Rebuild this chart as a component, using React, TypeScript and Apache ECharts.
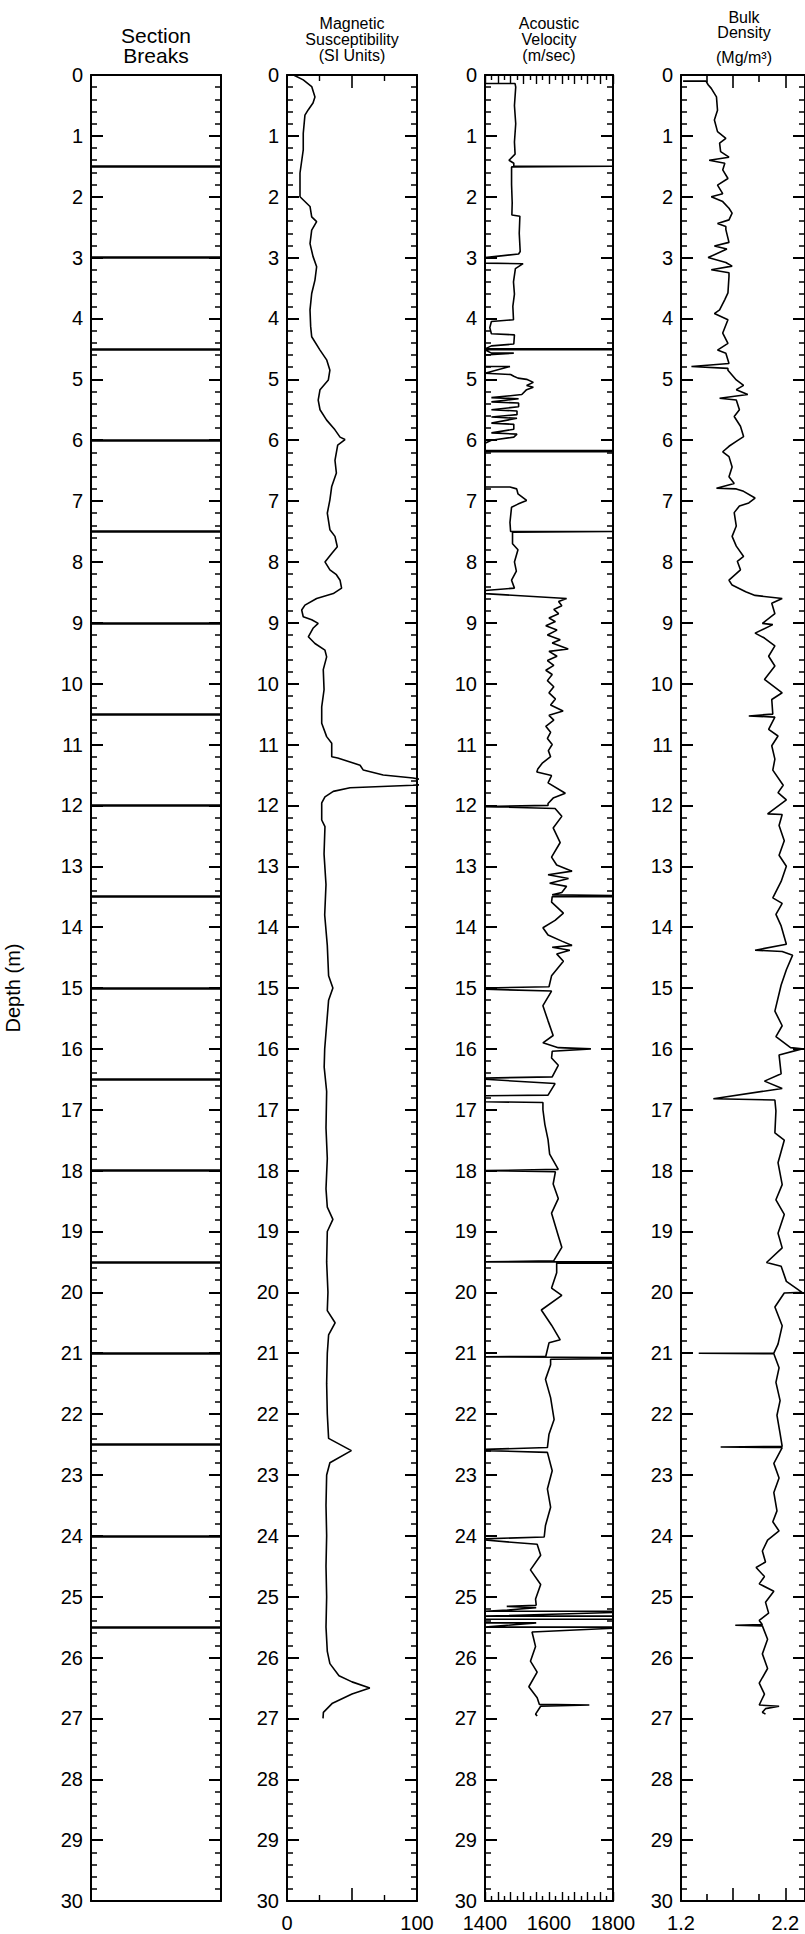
import React, { useEffect, useRef } from 'react';
import * as echarts from 'echarts';

// ---------- data ----------
const DEPTH_MIN = 0;
const DEPTH_MAX = 30;

const sectionBreaks = [1.5, 3, 4.5, 6, 7.5, 9, 10.5, 12, 13.5, 15, 16.5, 18, 19.5, 21, 22.5, 24, 25.5];

// [value (SI), depth (m)]
const magSus: number[][] = [
  [5, 0], [12.5, 0.08], [19, 0.19], [21.5, 0.36], [20, 0.46], [16.4, 0.57], [13.8, 0.66], [12.5, 0.96], [12.5, 1.23],
  [10, 1.61], [10, 2.0], [17.7, 2.16], [19, 2.33], [22.8, 2.41], [19, 2.55], [17.7, 2.77], [20, 2.98], [22.8, 3.15],
  [21.5, 3.37], [19, 3.59], [17.7, 3.86], [18.2, 4.13], [19, 4.3], [25.4, 4.52], [30.5, 4.68], [33, 4.85], [31.8, 5.01],
  [25.4, 5.17], [24, 5.34], [25.4, 5.5], [30.5, 5.67], [36.9, 5.83], [40.8, 5.95], [44.6, 5.99], [39, 6.08], [36.9, 6.33],
  [38, 6.54], [34.4, 6.76], [33, 6.98], [31, 7.2], [33, 7.47], [36.9, 7.58], [38.7, 7.75], [34.4, 7.86], [29.2, 8.0],
  [33, 8.13], [38, 8.21], [40.8, 8.3], [42, 8.43], [35.6, 8.52], [22.8, 8.6], [13.8, 8.71], [11.3, 8.79], [12.5, 8.9],
  [19, 8.95], [24, 9.01], [20, 9.09], [16.4, 9.23], [21.5, 9.34], [29.2, 9.45], [30.5, 9.56], [27.9, 9.77], [28.5, 10.1],
  [26.7, 10.38], [26.7, 10.65], [30.5, 10.87], [34.4, 10.98], [34.4, 11.2], [39, 11.22], [56.2, 11.34], [58.7, 11.42],
  [74, 11.5], [97, 11.55], [110, 11.6], [110, 11.65], [97, 11.67], [48.5, 11.71], [35.6, 11.77], [29.2, 11.86],
  [26.7, 11.96], [26.7, 12.24], [29.2, 12.35], [28.5, 12.8], [30, 13.3], [29, 13.8], [31, 14.3], [32, 14.8], [35.3, 15.0],
  [32, 15.2], [30.5, 15.6], [29, 16.0], [28.6, 16.3], [30.5, 16.7], [30, 17.3], [31, 17.8], [30, 18.3], [31, 18.6],
  [35.3, 18.8], [31, 19.0], [30.5, 19.5], [31.5, 20.0], [31, 20.3], [37, 20.5], [32, 20.7], [31, 21.0], [30.5, 21.5],
  [31, 22.0], [32, 22.4], [49.5, 22.6], [33, 22.8], [30.5, 23.0], [30, 23.5], [30.5, 24.0], [30, 24.5], [30.5, 25.0],
  [30, 25.5], [31, 25.9], [33, 26.1], [40, 26.3], [50, 26.4], [63.7, 26.5], [50, 26.6], [35, 26.75], [28, 26.9], [27.7, 27.0],
];

// [velocity (m/sec), depth (m)]
const velocity: number[][] = [
  [1400, 0.14], [1494, 0.14], [1496, 0.2], [1492, 0.5], [1496, 0.8], [1492, 1.1], [1494, 1.3], [1475, 1.4], [1490, 1.45],
  [1490, 1.5], [1800, 1.5], [1800, 1.51], [1483, 1.51], [1483, 1.8], [1485, 2.1], [1484, 2.3], [1509, 2.32], [1507, 2.6],
  [1510, 2.9], [1505, 2.94], [1400, 3.0], [1400, 3.09], [1519, 3.1], [1495, 3.18], [1489, 3.4], [1492, 3.6], [1487, 3.8],
  [1489, 4.02], [1420, 4.05], [1415, 4.15], [1420, 4.25], [1492, 4.27], [1490, 4.42], [1420, 4.45], [1400, 4.5],
  [1800, 4.5], [1800, 4.515], [1400, 4.515], [1420, 4.57], [1490, 4.57], [1400, 4.6], [1400, 4.79], [1478, 4.79],
  [1400, 4.9], [1480, 4.92], [1490, 4.95], [1503, 4.98], [1530, 5.0], [1551, 5.05], [1530, 5.1], [1551, 5.13],
  [1530, 5.17], [1515, 5.25], [1420, 5.3], [1505, 5.32], [1420, 5.37], [1505, 5.39], [1505, 5.45], [1420, 5.5],
  [1500, 5.52], [1500, 5.58], [1420, 5.62], [1500, 5.64], [1420, 5.72], [1490, 5.74], [1490, 5.82], [1420, 5.88],
  [1500, 5.9], [1490, 5.95], [1420, 6.0], [1400, 6.05], [1400, 6.17], [1800, 6.17], [1800, 6.19], [1400, 6.19],
  [1400, 6.77], [1478, 6.77], [1499, 6.8], [1503, 6.88], [1530, 6.99], [1503, 7.05], [1483, 7.1], [1478, 7.35],
  [1480, 7.5], [1800, 7.5], [1800, 7.51], [1486, 7.51], [1486, 7.7], [1503, 7.8], [1492, 8.0], [1498, 8.15], [1483, 8.3],
  [1492, 8.43], [1400, 8.47], [1400, 8.52], [1655, 8.6], [1630, 8.65], [1640, 8.72], [1615, 8.78], [1630, 8.85],
  [1600, 8.92], [1620, 8.98], [1590, 9.05], [1625, 9.12], [1595, 9.2], [1635, 9.28], [1610, 9.33], [1660, 9.43],
  [1600, 9.47], [1625, 9.55], [1595, 9.62], [1615, 9.7], [1590, 9.78], [1610, 9.85], [1595, 9.95], [1615, 10.05],
  [1600, 10.15], [1620, 10.25], [1605, 10.35], [1644, 10.45], [1600, 10.52], [1615, 10.6], [1590, 10.7], [1605, 10.8],
  [1595, 10.9], [1610, 11.0], [1598, 11.1], [1605, 11.2], [1580, 11.3], [1565, 11.4], [1562, 11.45], [1608, 11.51],
  [1597, 11.63], [1651, 11.8], [1613, 11.88], [1597, 11.97], [1597, 12.0], [1400, 12.02], [1619, 12.05], [1640, 12.18],
  [1613, 12.37], [1635, 12.61], [1608, 12.85], [1624, 12.98], [1672, 13.08], [1597, 13.14], [1661, 13.2], [1602, 13.28],
  [1655, 13.33], [1640, 13.43], [1610, 13.47], [1800, 13.48], [1800, 13.5], [1610, 13.5], [1608, 13.59], [1645, 13.77],
  [1619, 13.89], [1581, 14.01], [1597, 14.13], [1640, 14.23], [1672, 14.3], [1610, 14.33], [1665, 14.38], [1624, 14.44],
  [1645, 14.56], [1608, 14.8], [1600, 14.98], [1400, 15.0], [1400, 15.02], [1608, 15.05], [1581, 15.29], [1597, 15.54],
  [1613, 15.78], [1581, 15.9], [1629, 15.98], [1731, 16.0], [1610, 16.04], [1608, 16.15], [1629, 16.27], [1610, 16.46],
  [1400, 16.48], [1400, 16.5], [1619, 16.57], [1597, 16.76], [1400, 16.77], [1400, 16.87], [1581, 16.88], [1581, 17.0],
  [1587, 17.24], [1597, 17.49], [1602, 17.73], [1629, 17.98], [1400, 18.0], [1620, 18.02], [1613, 18.22], [1629, 18.46],
  [1608, 18.7], [1629, 19.07], [1640, 19.26], [1615, 19.48], [1400, 19.5], [1800, 19.5], [1800, 19.52], [1624, 19.52],
  [1624, 19.68], [1608, 19.93], [1640, 20.05], [1576, 20.29], [1608, 20.54], [1635, 20.78], [1600, 20.83], [1590, 21.05],
  [1400, 21.06], [1800, 21.07], [1800, 21.09], [1605, 21.1], [1605, 21.19], [1589, 21.43], [1605, 21.73], [1616, 22.09],
  [1600, 22.33], [1595, 22.55], [1400, 22.58], [1400, 22.6], [1595, 22.63], [1610, 22.93], [1595, 23.23], [1605, 23.53],
  [1589, 23.83], [1585, 24.02], [1400, 24.05], [1400, 24.07], [1563, 24.14], [1574, 24.32], [1542, 24.56], [1574, 24.8],
  [1558, 25.04], [1560, 25.14], [1468, 25.16], [1560, 25.18], [1470, 25.22], [1400, 25.24], [1800, 25.24], [1800, 25.26],
  [1400, 25.32], [1800, 25.32], [1800, 25.37], [1400, 25.37], [1400, 25.43], [1560, 25.43], [1400, 25.5], [1800, 25.5],
  [1800, 25.52], [1547, 25.58], [1558, 25.82], [1542, 26.06], [1563, 26.24], [1537, 26.48], [1563, 26.66], [1570, 26.77],
  [1726, 26.78], [1574, 26.8], [1558, 26.93], [1563, 26.96],
];

// [bulk density (Mg/m3), depth (m)]
const density: number[][] = [
  [1.22, 0.1], [1.44, 0.1], [1.46, 0.16], [1.49, 0.22], [1.54, 0.36], [1.55, 0.58], [1.52, 0.74], [1.55, 0.93],
  [1.63, 1.04], [1.57, 1.12], [1.58, 1.26], [1.66, 1.35], [1.47, 1.4], [1.62, 1.45], [1.6, 1.56], [1.65, 1.7],
  [1.55, 1.81], [1.6, 1.95], [1.49, 2.0], [1.6, 2.08], [1.66, 2.19], [1.69, 2.27], [1.66, 2.38], [1.55, 2.44],
  [1.63, 2.49], [1.63, 2.54], [1.66, 2.75], [1.52, 2.81], [1.64, 2.86], [1.46, 3.0], [1.63, 3.08], [1.69, 3.14],
  [1.49, 3.2], [1.66, 3.25], [1.66, 3.31], [1.65, 3.58], [1.62, 3.69], [1.57, 3.86], [1.52, 3.92], [1.65, 4.02],
  [1.6, 4.24], [1.65, 4.41], [1.55, 4.52], [1.63, 4.57], [1.66, 4.74], [1.3, 4.79], [1.65, 4.82], [1.65, 4.85],
  [1.73, 5.01], [1.8, 5.1], [1.73, 5.17], [1.84, 5.25], [1.57, 5.31], [1.73, 5.34], [1.76, 5.5], [1.71, 5.61],
  [1.77, 5.77], [1.8, 5.94], [1.73, 6.02], [1.66, 6.1], [1.6, 6.19], [1.66, 6.27], [1.69, 6.44], [1.66, 6.6],
  [1.71, 6.71], [1.54, 6.79], [1.73, 6.8], [1.8, 6.84], [1.91, 6.95], [1.85, 7.03], [1.76, 7.08], [1.71, 7.19],
  [1.73, 7.41], [1.69, 7.58], [1.73, 7.74], [1.8, 7.91], [1.74, 7.99], [1.77, 8.13], [1.66, 8.3], [1.69, 8.38],
  [1.82, 8.49], [1.91, 8.55], [2.17, 8.6], [2.07, 8.68], [2.1, 8.85], [1.98, 9.01], [2.08, 9.03], [1.91, 9.17],
  [2.0, 9.25], [2.1, 9.38], [2.04, 9.55], [2.1, 9.71], [2.0, 9.93], [2.17, 10.15], [2.07, 10.26], [2.08, 10.5],
  [1.85, 10.53], [2.1, 10.55], [2.04, 10.75], [2.13, 10.86], [2.07, 11.02], [2.1, 11.24], [2.08, 11.42], [2.18, 11.67],
  [2.13, 11.79], [2.21, 11.91], [2.03, 12.14], [2.17, 12.15], [2.14, 12.33], [2.19, 12.58], [2.14, 12.82], [2.21, 13.0],
  [2.16, 13.25], [2.08, 13.52], [2.17, 13.61], [2.11, 13.79], [2.16, 13.98], [2.21, 14.28], [1.91, 14.38], [2.17, 14.4],
  [2.27, 14.46], [2.21, 14.7], [2.16, 14.95], [2.1, 15.38], [2.17, 15.62], [2.11, 15.8], [2.25, 15.98], [2.36, 16.0],
  [2.14, 16.1], [2.16, 16.41], [2.0, 16.53], [2.17, 16.65], [1.51, 16.82], [2.1, 16.84], [2.11, 17.02], [2.1, 17.38],
  [2.19, 17.5], [2.13, 17.87], [2.17, 18.23], [2.11, 18.48], [2.19, 18.72], [2.13, 19.03], [2.17, 19.27], [2.02, 19.51],
  [2.16, 19.57], [2.21, 19.82], [2.36, 20.0], [2.19, 20.01], [2.1, 20.24], [2.17, 20.55], [2.13, 20.85], [2.09, 21.0],
  [1.37, 21.0], [2.09, 21.01], [2.14, 21.24], [2.11, 21.48], [2.15, 21.78], [2.12, 22.02], [2.15, 22.32], [2.17, 22.53],
  [1.58, 22.54], [2.17, 22.55], [2.09, 22.81], [2.14, 23.05], [2.09, 23.29], [2.12, 23.59], [2.08, 23.77], [2.14, 23.92],
  [2.03, 24.07], [1.98, 24.25], [2.01, 24.43], [1.92, 24.52], [2.0, 24.67], [1.95, 24.79], [2.09, 24.91], [2.01, 25.09],
  [2.04, 25.27], [1.95, 25.39], [1.98, 25.46], [1.72, 25.47], [1.98, 25.48], [2.03, 25.7], [1.98, 25.94], [2.03, 26.18],
  [1.95, 26.42], [2.0, 26.6], [1.95, 26.78], [2.14, 26.8], [2.01, 26.84], [1.98, 26.9], [2.01, 26.93],
];

const magSusLabels = [0, 100];
const velocityLabels = [1400, 1600, 1800];
const densityLabels = [1.2, 2.2];
const densityShortTicks = [1.45, 1.95];
const densityLongTicks = [1.7, 2.2];

const titleLines = [
  ['Section', 'Breaks'],
  ['Magnetic', 'Susceptibility', '(SI Units)'],
  ['Acoustic', 'Velocity', '(m/sec)'],
  ['Bulk', 'Density', '(Mg/m³)'],
];
const depthTitle = 'Depth (m)';

// ---------- layout ----------
const W = 805;
const H = 1934;
const TOP = 75;
const PH = 1826;
const panels = [
  { left: 91, width: 130 },
  { left: 287, width: 130 },
  { left: 485, width: 128 },
  { left: 681, width: 126 },
];
const titleY = [
  [35, 55],
  [23, 39, 55],
  [23, 39, 55],
  [17, 32, 57],
];
const titleSize = [21, 16, 16, 16];
const FONT = '"Liberation Sans", Arial, Helvetica, sans-serif';
const BLACK = '#000';
const LABEL_SIZE = 20;

const near = (arr: number[], v: number) => arr.some((a) => Math.abs(a - v) < 1e-6);

function yAxesFor(gi: number) {
  const base = {
    type: 'value',
    gridIndex: gi,
    inverse: true,
    min: DEPTH_MIN,
    max: DEPTH_MAX,
    interval: 1,
    axisLine: { show: true, onZero: false, lineStyle: { color: BLACK, width: 2 } },
    axisTick: { show: true, inside: true, length: 12, lineStyle: { color: BLACK, width: 2 } },
    minorTick: { show: true, splitNumber: 5, length: 6, lineStyle: { color: BLACK, width: 1.5 } },
    splitLine: { show: false },
    minorSplitLine: { show: false },
  };
  return [
    {
      ...base,
      position: 'left',
      axisLabel: { show: true, margin: 8, fontSize: LABEL_SIZE, color: BLACK, fontFamily: FONT },
    },
    { ...base, position: 'right', axisLabel: { show: false } },
  ];
}

function xPair(gi: number, cfg: any) {
  const mk = (pos: string, label: boolean) => ({
    type: 'value',
    gridIndex: gi,
    position: pos,
    min: cfg.min,
    max: cfg.max,
    interval: cfg.interval,
    axisLine: { show: cfg.line !== false, onZero: false, lineStyle: { color: BLACK, width: 2 } },
    axisTick: {
      show: cfg.tick !== false,
      inside: true,
      length: cfg.tickLen,
      customValues: cfg.tickValues,
      lineStyle: { color: BLACK, width: cfg.tickWidth || 1.6 },
    },
    minorTick: {
      show: !!cfg.minorSplit,
      splitNumber: cfg.minorSplit || 5,
      length: cfg.minorLen,
      lineStyle: { color: BLACK, width: 1.4 },
    },
    axisLabel: label && cfg.labels
      ? {
          show: true,
          margin: 12,
          fontSize: LABEL_SIZE,
          color: BLACK,
          fontFamily: FONT,
          customValues: cfg.labelValues,
          formatter: (v: number) => (near(cfg.labels, v) ? cfg.fmt(v) : ''),
        }
      : { show: false },
    splitLine: { show: false },
    minorSplitLine: { show: false },
  });
  return [mk('bottom', true), mk('top', false)];
}

const App: React.FC = () => {
  const ref = useRef<HTMLDivElement>(null);

  useEffect(() => {
    if (!ref.current) return;
    const chart = echarts.init(ref.current, undefined, { renderer: 'svg' });

    const grids: any[] = panels.map((p) => ({ left: p.left, top: TOP, width: p.width, height: PH, containLabel: false }));
    grids.push({ left: panels[3].left, top: TOP, width: panels[3].width, height: PH, containLabel: false });

    const densMax = 1.2 + (panels[3].width * 1.0) / 106;

    const xAxis: any[] = [
      ...xPair(0, { min: 0, max: 1, tick: false }),
      ...xPair(1, {
        min: 0, max: 100, interval: 50, tickLen: 13, minorSplit: 2, minorLen: 6,
        labels: magSusLabels, fmt: (v: number) => String(v),
      }),
      ...xPair(2, {
        min: 1400, max: 1800, interval: 40, tickLen: 9, minorSplit: 2, minorLen: 5, tickWidth: 1.4,
        labels: velocityLabels, fmt: (v: number) => String(v),
      }),
      ...xPair(3, {
        min: 1.2, max: densMax, tickLen: 7, tickValues: densityShortTicks,
        labels: densityLabels, labelValues: densityLabels, fmt: (v: number) => v.toFixed(1),
      }),
      ...xPair(4, { min: 1.2, max: densMax, tickLen: 13, tickValues: densityLongTicks, line: false }),
    ];

    const yAxis: any[] = [
      ...yAxesFor(0), ...yAxesFor(1), ...yAxesFor(2), ...yAxesFor(3),
      { type: 'value', gridIndex: 4, inverse: true, min: DEPTH_MIN, max: DEPTH_MAX, show: false },
    ];

    const lineSeries = (gi: number, data: number[][]) => ({
      type: 'line',
      xAxisIndex: gi * 2,
      yAxisIndex: gi * 2,
      data,
      symbol: 'none',
      showSymbol: false,
      clip: true,
      silent: true,
      lineStyle: { color: BLACK, width: 1.6 },
      emphasis: { disabled: true },
    });

    const graphic: any[] = [];
    titleLines.forEach((lines, i) => {
      const cx = panels[i].left + panels[i].width / 2;
      lines.forEach((t, j) => {
        graphic.push({
          type: 'text',
          x: cx,
          y: titleY[i][j],
          silent: true,
          style: {
            text: t,
            fill: BLACK,
            font: `${titleSize[i]}px ${FONT}`,
            textAlign: 'center',
            textVerticalAlign: 'middle',
            align: 'center',
            verticalAlign: 'middle',
          },
        });
      });
    });
    graphic.push({
      type: 'text',
      x: 13,
      y: TOP + PH / 2,
      rotation: Math.PI / 2,
      silent: true,
      style: {
        text: depthTitle,
        fill: BLACK,
        font: `20px ${FONT}`,
        textAlign: 'center',
        textVerticalAlign: 'middle',
        align: 'center',
        verticalAlign: 'middle',
      },
    });

    chart.setOption({
      animation: false,
      backgroundColor: '#fff',
      grid: grids,
      xAxis,
      yAxis,
      graphic,
      series: [
        {
          type: 'line',
          xAxisIndex: 0,
          yAxisIndex: 0,
          data: [[0, 0]],
          symbol: 'none',
          showSymbol: false,
          silent: true,
          lineStyle: { width: 0 },
          markLine: {
            silent: true,
            symbol: 'none',
            label: { show: false },
            emphasis: { disabled: true },
            lineStyle: { color: BLACK, width: 2.6, type: 'solid' },
            data: sectionBreaks.map((d) => ({ yAxis: d })),
          },
        },
        lineSeries(1, magSus),
        lineSeries(2, velocity),
        lineSeries(3, density),
      ],
    });

    return () => chart.dispose();
  }, []);

  return (
    <div
      ref={ref}
      style={{ position: 'absolute', left: 0, top: 0, width: W, height: H, background: '#fff' }}
    />
  );
};

export default App;
